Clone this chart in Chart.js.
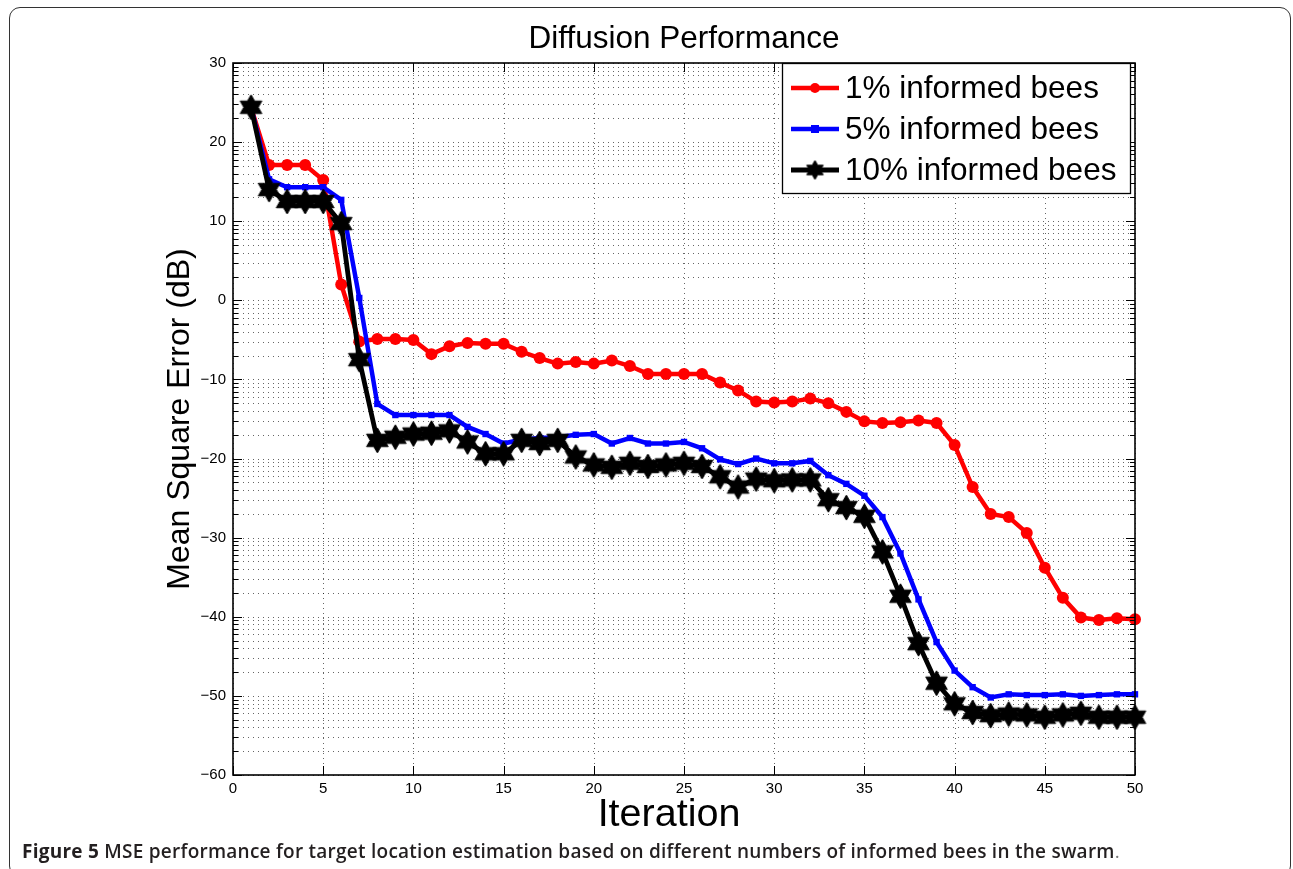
<!DOCTYPE html>
<html>
<head>
<meta charset="utf-8">
<script src="https://cdn.jsdelivr.net/npm/chart.js@4.4.1/dist/chart.umd.min.js"></script>
<style>
  html, body { margin: 0; padding: 0; background: #fff; }
  body { width: 1293px; height: 869px; position: relative; overflow: hidden; }
  #frame {
    position: absolute; left: 9px; top: 7px; width: 1282px; height: 870px;
    border: 1.5px solid #333; border-radius: 11px; box-sizing: border-box;
  }
  #wrap { position: absolute; left: 0; top: 0; width: 1293px; height: 869px; }
  #caption {
    position: absolute; left: 22px; top: 838px; white-space: nowrap;
    font-family: "Open Sans", "Noto Sans", sans-serif; font-size: 19px;
    font-weight: 600; color: #231f20; letter-spacing: 0.25px;
  }
  #caption b { font-weight: 700; }
  #caption .dot { font-weight: 400; color: #777; }
</style>
</head>
<body>
<div id="frame"></div>
<div id="wrap"><canvas id="chart" width="1293" height="869"></canvas></div>
<div id="caption"><b>Figure 5</b> MSE performance for target location estimation based on different numbers of informed bees in the swarm<span class="dot">.</span></div>
<script>
// Iteration index
const iterations = [1,2,3,4,5,6,7,8,9,10,11,12,13,14,15,16,17,18,19,20,
  21,22,23,24,25,26,27,28,29,30,31,32,33,34,35,36,37,38,39,40,
  41,42,43,44,45,46,47,48,49,50];

// Mean square error (dB) per iteration
const mse1 = [24.4, 17.1, 17.1, 17.1, 15.2, 2.0, -5.2, -4.9, -4.9, -5.0,
  -6.8, -5.8, -5.4, -5.5, -5.5, -6.5, -7.3, -8.0, -7.8, -8.0,
  -7.6, -8.3, -9.3, -9.3, -9.3, -9.3, -10.4, -11.4, -12.8, -12.9,
  -12.8, -12.4, -13.0, -14.1, -15.3, -15.5, -15.4, -15.2, -15.5, -18.3,
  -23.6, -27.0, -27.4, -29.4, -33.8, -37.6, -40.1, -40.4, -40.2, -40.3];

const mse5 = [24.4, 15.3, 14.3, 14.3, 14.3, 12.7, 0.3, -13.1, -14.5, -14.5,
  -14.5, -14.5, -16.0, -16.9, -18.1, -17.6, -17.4, -17.3, -17.0, -16.9,
  -18.1, -17.4, -18.1, -18.1, -17.9, -18.7, -20.1, -20.7, -20.0, -20.6,
  -20.6, -20.3, -22.1, -23.2, -24.7, -27.4, -32.0, -37.8, -43.2, -46.8,
  -48.9, -50.2, -49.8, -49.9, -49.9, -49.8, -50.0, -49.9, -49.8, -49.8];

const mse10 = [24.4, 14.0, 12.5, 12.5, 12.5, 9.7, -7.5, -17.7, -17.3, -16.9,
  -16.8, -16.5, -17.9, -19.4, -19.4, -17.7, -18.1, -17.7, -19.8, -20.8,
  -21.1, -20.6, -21.0, -20.8, -20.6, -21.0, -22.3, -23.6, -22.6, -22.8,
  -22.7, -22.7, -25.2, -26.2, -27.3, -31.8, -37.4, -43.4, -48.4, -51.0,
  -52.1, -52.5, -52.3, -52.4, -52.7, -52.4, -52.2, -52.7, -52.7, -52.7];

const seriesLabels = ['1% informed bees', '5% informed bees', '10% informed bees'];
const chartTitle = 'Diffusion Performance';
const xTitle = 'Iteration';
const yTitle = 'Mean Square Error (dB)';
const xTicks = [0, 5, 10, 15, 20, 25, 30, 35, 40, 45, 50];
const yTicks = [-60, -50, -40, -30, -20, -10, 0, 10, 20, 30];
// minor grid follows the log-style subdivision k = 2..9 inside each decade
const minorSteps = [2, 3, 4, 5, 6, 7, 8, 9];

const FONT = '"Liberation Sans", Arial, sans-serif';
Chart.defaults.font.family = FONT;
Chart.defaults.color = '#000';

// filled six-pointed star marker
function hexagram(R, color) {
  const c = document.createElement('canvas');
  const s = Math.ceil(R * 2 + 4);
  c.width = s; c.height = s;
  const g = c.getContext('2d');
  const r = R / Math.sqrt(3);
  g.translate(s / 2, s / 2);
  g.beginPath();
  for (let i = 0; i < 12; i++) {
    const a = -Math.PI / 2 + i * Math.PI / 6;
    const rr = i % 2 === 0 ? R : r;
    const x = rr * Math.cos(a), y = rr * Math.sin(a);
    i === 0 ? g.moveTo(x, y) : g.lineTo(x, y);
  }
  g.closePath();
  g.fillStyle = color; g.fill();
  g.lineWidth = 1; g.strokeStyle = color; g.stroke();
  return c;
}
const starBig = hexagram(12.5, '#000');
const starSmall = hexagram(9.5, '#000');

const toPoints = arr => arr.map((v, i) => ({x: iterations[i], y: v}));

// axes box, dotted grid, inward ticks, title and x label
const boxPlugin = {
  id: 'boxAxes',
  beforeDatasetsDraw(chart) {
    const {ctx, chartArea: a, scales: {x, y}} = chart;
    ctx.save();
    ctx.lineWidth = 1;
    ctx.strokeStyle = 'rgba(0,0,0,0.6)';
    ctx.setLineDash([1, 4]);
    for (let d = -60; d < 30; d += 10) {
      for (const k of minorSteps) {
        const py = Math.round(y.getPixelForValue(d + 10 * Math.log10(k))) + 0.5;
        ctx.beginPath(); ctx.moveTo(a.left, py); ctx.lineTo(a.right, py); ctx.stroke();
      }
    }
    for (const t of yTicks) {
      const py = Math.round(y.getPixelForValue(t)) + 0.5;
      ctx.beginPath(); ctx.moveTo(a.left, py); ctx.lineTo(a.right, py); ctx.stroke();
    }
    for (const t of xTicks) {
      const px = Math.round(x.getPixelForValue(t)) + 0.5;
      ctx.beginPath(); ctx.moveTo(px, a.top); ctx.lineTo(px, a.bottom); ctx.stroke();
    }
    ctx.restore();
  },
  afterDatasetsDraw(chart) {
    const {ctx, chartArea: a, scales: {x, y}} = chart;
    ctx.save();
    ctx.strokeStyle = '#000';
    ctx.lineWidth = 1;
    ctx.setLineDash([]);
    for (let d = -60; d < 30; d += 10) {
      for (const k of minorSteps) {
        const py = Math.round(y.getPixelForValue(d + 10 * Math.log10(k))) + 0.5;
        ctx.beginPath();
        ctx.moveTo(a.left, py); ctx.lineTo(a.left + 5, py);
        ctx.moveTo(a.right, py); ctx.lineTo(a.right - 5, py);
        ctx.stroke();
      }
    }
    for (const t of yTicks) {
      const py = Math.round(y.getPixelForValue(t)) + 0.5;
      ctx.beginPath();
      ctx.moveTo(a.left, py); ctx.lineTo(a.left + 9, py);
      ctx.moveTo(a.right, py); ctx.lineTo(a.right - 9, py);
      ctx.stroke();
    }
    for (const t of xTicks) {
      const px = Math.round(x.getPixelForValue(t)) + 0.5;
      ctx.beginPath();
      ctx.moveTo(px, a.bottom); ctx.lineTo(px, a.bottom - 9);
      ctx.moveTo(px, a.top); ctx.lineTo(px, a.top + 9);
      ctx.stroke();
    }
    ctx.lineWidth = 1.6;
    ctx.strokeRect(a.left, a.top, a.right - a.left, a.bottom - a.top);

    // title centred over the plot, x label below the tick labels
    ctx.fillStyle = '#000';
    ctx.textAlign = 'center';
    ctx.textBaseline = 'alphabetic';
    ctx.font = '31.5px ' + FONT;
    ctx.fillText(chartTitle, (a.left + a.right) / 2, 48);
    ctx.font = '39.5px ' + FONT;
    ctx.fillText(xTitle, (a.left + a.right) / 2 - 15, a.bottom + 51);
    ctx.restore();
  }
};

// boxed legend in the upper right corner of the plot
const legendPlugin = {
  id: 'boxLegend',
  afterDraw(chart) {
    const {ctx, chartArea: a} = chart;
    const bx = a.right - 5 - 348, by = a.top, bw = 348, bh = 130;
    ctx.save();
    ctx.fillStyle = '#fff';
    ctx.fillRect(bx, by, bw, bh);
    ctx.strokeStyle = '#000'; ctx.lineWidth = 1.3;
    ctx.strokeRect(bx + 0.5, by + 0.5, bw, bh);
    ctx.font = '31.5px ' + FONT;
    ctx.textBaseline = 'middle';
    chart.data.datasets.forEach((ds, i) => {
      const cy = by + 25 + i * 41;
      ctx.strokeStyle = ds.borderColor;
      ctx.lineWidth = ds.borderWidth;
      ctx.beginPath(); ctx.moveTo(bx + 9, cy); ctx.lineTo(bx + 57, cy); ctx.stroke();
      const mx = bx + 33;
      ctx.fillStyle = ds.borderColor;
      if (ds.pointStyle === 'circle') {
        ctx.beginPath(); ctx.arc(mx, cy, 5, 0, Math.PI * 2); ctx.fill();
      } else if (ds.pointStyle === 'rect') {
        ctx.fillRect(mx - 4, cy - 4, 8, 8);
      } else {
        ctx.drawImage(starSmall, mx - starSmall.width / 2, cy - starSmall.height / 2);
      }
      ctx.fillStyle = '#000';
      ctx.fillText(ds.label, bx + 63, cy + 1);
    });
    ctx.restore();
  }
};

new Chart(document.getElementById('chart'), {
  type: 'line',
  data: {
    datasets: [
      { label: seriesLabels[0], data: toPoints(mse1), borderColor: '#ff0000', backgroundColor: '#ff0000',
        borderWidth: 4.5, pointStyle: 'circle', pointRadius: 6, pointBorderWidth: 0, order: 2 },
      { label: seriesLabels[1], data: toPoints(mse5), borderColor: '#0000ff', backgroundColor: '#0000ff',
        borderWidth: 4.5, pointStyle: 'rect', pointRadius: 4.5, pointBorderWidth: 0, order: 1 },
      { label: seriesLabels[2], data: toPoints(mse10), borderColor: '#000000', backgroundColor: '#000000',
        borderWidth: 4.8, pointStyle: starBig, pointRadius: 12, order: 0 }
    ]
  },
  options: {
    responsive: false,
    animation: false,
    clip: false,
    layout: { padding: { left: 0, right: 158, top: 63, bottom: 0 } },
    elements: { line: { tension: 0, fill: false } },
    plugins: {
      legend: { display: false },
      tooltip: { enabled: false },
      title: { display: false }
    },
    scales: {
      x: {
        type: 'linear', min: 0, max: 50,
        afterBuildTicks: s => { s.ticks = xTicks.map(v => ({value: v})); },
        afterFit: s => { s.height = 94; },
        grid: { display: false, drawTicks: false },
        border: { display: false },
        ticks: { font: { size: 15 }, padding: 5, maxRotation: 0, color: '#000' }
      },
      y: {
        type: 'linear', min: -60, max: 30,
        afterBuildTicks: s => { s.ticks = yTicks.map(v => ({value: v})); },
        afterFit: s => { s.width = 233; },
        grid: { display: false, drawTicks: false },
        border: { display: false },
        ticks: { font: { size: 15 }, padding: 7, color: '#000',
          callback: v => String(v).replace('-', '\u2212') },
        title: { display: true, text: yTitle, color: '#000',
          font: { size: 32, family: FONT },
          padding: { top: 161, bottom: 0 } }
      }
    }
  },
  plugins: [boxPlugin, legendPlugin]
});
</script>
</body>
</html>
